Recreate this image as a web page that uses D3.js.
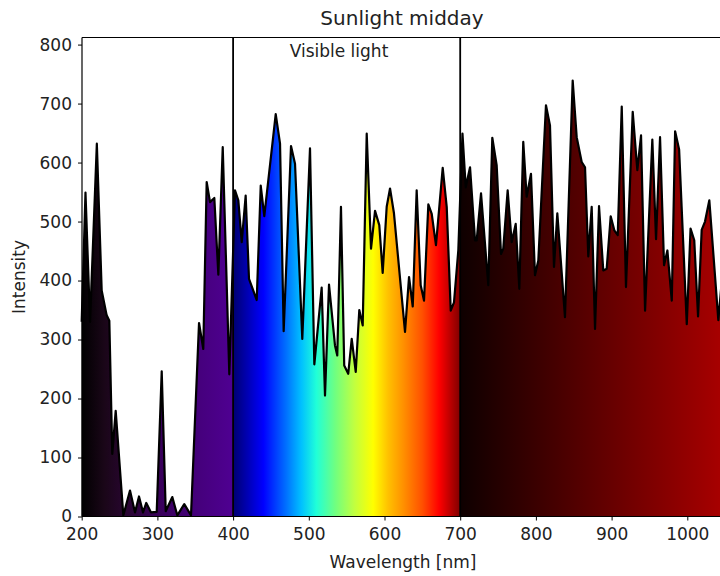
<!DOCTYPE html>
<html>
<head>
<meta charset="utf-8">
<script src="https://cdn.jsdelivr.net/npm/d3@7"></script>
<style>
  body { margin: 0; background: #fff; }
  svg text { font-family: "DejaVu Sans", sans-serif; fill: #222; }
</style>
</head>
<body>
<svg id="chart" width="720" height="576"></svg>
<script>
// wavelength (nm) and intensity
let wavelengths = [200, 205, 211, 220, 226.4, 233, 236.5, 240.4, 244.9, 255, 263.8, 270.4, 275.7, 281, 285.3, 291.5, 299.1, 305.7, 311, 319.7,
    326.3, 335.5, 344.4, 355, 360.6, 365.1, 369.5, 375.2, 380.5, 386.3, 395, 402.5, 406.9, 411.4, 416.6, 421, 431.2, 436.5, 441.2, 456.3,
    462, 466.8, 476.5, 481.8, 491.4, 501.6, 507.3, 517, 521.4, 526.7, 534.6, 537.6, 542.5, 546.8, 552.1, 556.7, 562, 566.7, 571.2, 576.5,
    582.2, 587.5, 593.1, 597.6, 602.9, 607.3, 612.5, 627.1, 632.4, 637.3, 642.5, 647.8, 652.2, 657.9, 662.4, 668, 676.9, 682.2, 687.5, 691.8,
    697.5, 703, 707.3, 713, 719.6, 721.8, 727.5, 737.1, 742.4, 748.2, 753.9, 756.9, 762.7, 768, 773.3, 778.1, 783.3, 787.8, 793.5, 798.8,
    803.2, 813.3, 818.6, 823.9, 828.3, 838.4, 848.6, 853.9, 860.5, 864.9, 869.2, 873.7, 878.1, 883.4, 889, 893.5, 898.8, 903.6, 908.1, 913.4,
    919, 927.9, 934, 938.9, 944.2, 953.8, 958.7, 964, 969.3, 973.7, 979.5, 983.9, 989.2, 999.3, 1004.3, 1009.2, 1014.2, 1019, 1023.4, 1029.1,
    1041, 1047];
let intensity = [330, 549, 330, 632, 383, 341, 332, 106, 179, 2, 44, 7, 34, 7, 23, 7, 8, 246, 9, 33,
    2, 21, 2, 328, 284, 567, 533, 540, 410, 626, 241, 553, 536, 465, 544, 403, 367, 561, 509, 682,
    632, 314, 628, 598, 301, 624, 258, 388, 205, 393, 290, 273, 525, 256, 242, 301, 245, 350, 324, 649,
    454, 518, 494, 413, 525, 556, 514, 313, 406, 356, 553, 392, 366, 529, 513, 460, 591, 525, 349, 363,
    451, 649, 558, 592, 468, 468, 548, 392, 642, 595, 445, 454, 553, 465, 496, 386, 635, 542, 581, 409,
    434, 697, 663, 423, 514, 338, 739, 643, 601, 592, 441, 525, 318, 526, 417, 420, 509, 485, 477, 695,
    389, 686, 587, 646, 349, 639, 470, 643, 426, 451, 366, 653, 622, 326, 488, 468, 339, 486, 500, 536,
    333, 420];
let xTicks = [200, 300, 400, 500, 600, 700, 800, 900, 1000];
let yTicks = [0, 100, 200, 300, 400, 500, 600, 700, 800];
let visibleBounds = [400, 700];

// colour along the wavelength axis (nm, colour)
let colourStops = [
    [200, "#000000"], [230, "#1a0618"], [260, "#290532"], [300, "#380058"], [350, "#44007a"], [399.9, "#4f0092"],
    [400, "#000070"], [440, "#0000ff"], [470, "#0070ff"], [490, "#00c0ff"], [510, "#20ffd8"], [535, "#70ff80"],
    [560, "#c0ff40"], [585, "#ffff00"], [605, "#ffc000"], [625, "#ff9000"], [650, "#ff5000"], [672, "#ff0000"],
    [699.9, "#800000"], [700, "#0e0000"], [1047, "#a80000"]
];

let data = wavelengths.map((w, i) => ({w: w, v: intensity[i]}));

let svg = d3.select("#chart");
let mLeft = 82, mTop = 37.5, mBottom = 516.5;

let x = d3.scaleLinear().domain([200, 1050]).range([81.7, 81.7 + 0.757 * 850]);
let y = d3.scaleLinear().domain([0, 812]).range([mBottom, mTop]);

let defs = svg.append("defs");
let grad = defs.append("linearGradient")
    .attr("id", "spectrum")
    .attr("gradientUnits", "userSpaceOnUse")
    .attr("x1", x(200)).attr("x2", x(1047))
    .attr("y1", 0).attr("y2", 0);
grad.selectAll("stop")
    .data(colourStops)
    .enter().append("stop")
    .attr("offset", d => (x(d[0]) - x(200)) / (x(1047) - x(200)))
    .attr("stop-color", d => d[1]);

let area = d3.area()
    .x(d => x(d.w))
    .y0(y(0))
    .y1(d => y(d.v));
let line = d3.line()
    .x(d => x(d.w))
    .y(d => y(d.v));

svg.append("path")
    .datum(data)
    .attr("d", area)
    .attr("fill", "url(#spectrum)");

svg.append("path")
    .datum(data)
    .attr("d", line)
    .attr("fill", "none")
    .attr("stroke", "#000")
    .attr("stroke-width", 2.2)
    .attr("stroke-linejoin", "round");

// visible light markers
svg.selectAll(".bound")
    .data(visibleBounds)
    .enter().append("line")
    .attr("x1", d => x(d)).attr("x2", d => x(d))
    .attr("y1", y(0)).attr("y2", mTop)
    .attr("stroke", "#000")
    .attr("stroke-width", 1.8);

svg.append("text")
    .attr("x", 339)
    .attr("y", 57)
    .attr("text-anchor", "middle")
    .style("font-size", "17px")
    .text("Visible light");

// axes
let xAxis = svg.append("g")
    .attr("transform", `translate(0,${mBottom})`)
    .call(d3.axisBottom(x).tickValues(xTicks).tickFormat(d3.format("d")).tickSize(4).tickPadding(7));
let yAxis = svg.append("g")
    .attr("transform", `translate(${mLeft},0)`)
    .call(d3.axisLeft(y).tickValues(yTicks).tickFormat(d3.format("d")).tickSize(4).tickPadding(6));
[xAxis, yAxis].forEach(g => {
    g.selectAll("text").style("font-size", "17px").attr("fill", "#222");
    g.selectAll("line").attr("stroke", "#000").attr("stroke-width", 1);
    g.select(".domain").remove();
});

// spines (right one falls outside the picture)
svg.append("line").attr("x1", mLeft).attr("x2", 720).attr("y1", mTop).attr("y2", mTop)
    .attr("stroke", "#000").attr("stroke-width", 1.2);
svg.append("line").attr("x1", mLeft).attr("x2", 720).attr("y1", mBottom).attr("y2", mBottom)
    .attr("stroke", "#000").attr("stroke-width", 1.2);
svg.append("line").attr("x1", mLeft).attr("x2", mLeft).attr("y1", mTop).attr("y2", mBottom)
    .attr("stroke", "#000").attr("stroke-width", 1.2);

svg.append("text")
    .attr("x", 402)
    .attr("y", 25)
    .attr("text-anchor", "middle")
    .style("font-size", "20px")
    .text("Sunlight midday");

svg.append("text")
    .attr("x", 403)
    .attr("y", 568)
    .attr("text-anchor", "middle")
    .style("font-size", "17px")
    .text("Wavelength [nm]");

svg.append("text")
    .attr("transform", "translate(25,277) rotate(-90)")
    .attr("text-anchor", "middle")
    .style("font-size", "17px")
    .text("Intensity");
</script>
</body>
</html>
